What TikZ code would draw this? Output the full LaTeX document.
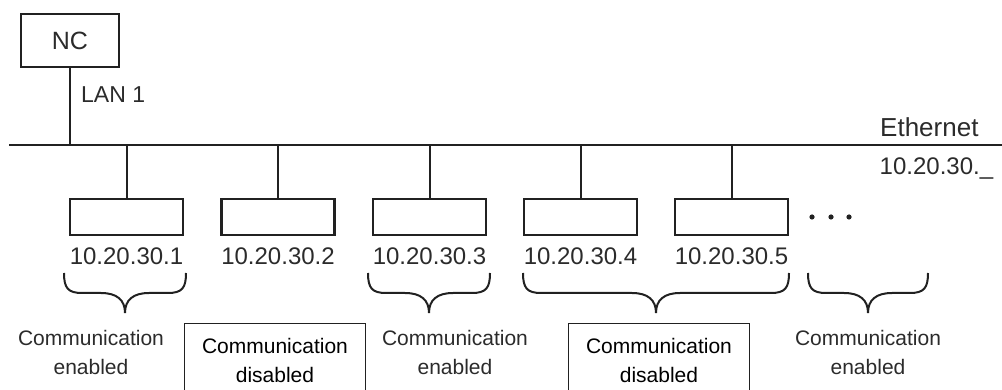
\documentclass[tikz,border=0pt]{standalone}
\usepackage{fontspec}
\setmainfont{Liberation Sans}
\usepackage{tikz}
\usetikzlibrary{calc,positioning}

\definecolor{linegray}{gray}{0.13}
\definecolor{textgray}{gray}{0.17}

% curly brace under the addresses: left end, right end, tip
\newcommand{\netbrace}[3]{%
  \draw[linegray, line width=2pt]
    (#1,273) .. controls (#1,288) and (#1+4,293) .. (#1+18,293)
    -- (#3-24,293) .. controls (#3-8,293) and (#3,300) .. (#3,313)
    .. controls (#3,300) and (#3+8,293) .. (#3+24,293)
    -- (#2-18,293) .. controls (#2-4,293) and (#2,288) .. (#2,273);}

\tikzset{
  unitbox/.style={draw=linegray, line width=2.6pt, minimum width=113pt,
    minimum height=36pt, inner sep=0pt},
  addr/.style={text=textgray, font=\fontsize{24}{28}\selectfont, anchor=base, inner sep=0pt},
  state/.style={text=textgray, font=\fontsize{21}{29}\selectfont, align=center,
    anchor=north, inner sep=0pt},
  offbox/.style={draw=linegray, line width=1.2pt, text=black,
    font=\fontsize{21}{29}\selectfont, align=center, anchor=north,
    minimum width=181pt, inner xsep=0pt, inner ysep=14.5pt}
}

\begin{document}
\begin{tikzpicture}[x=1pt, y=-1pt]
      \useasboundingbox (0,0) rectangle (1002,390);
      \clip (0,0) rectangle (1002,390);
      % Define coordinates
      \coordinate (busL) at (9,145);
      \coordinate (busR) at (1004,145);
      % Draw the Ethernet bus
      \draw[linegray, line width=2pt] (busL) -- (busR);
      \node[text=textgray, font=\fontsize{26}{30}\selectfont, anchor=base west, inner sep=0pt]
        (eth) at (880,137) {Ethernet};
      \node[text=textgray, font=\fontsize{24}{28}\selectfont, anchor=base west, inner sep=0pt]
        (net) at (879.5,175) {10.20.30.\_};
      % NC and its LAN port
      \node[draw=linegray, line width=2.4pt, minimum width=97.6pt, minimum height=52.6pt,
        text=textgray, font=\fontsize{25}{30}\selectfont] (nc) at (70,40.5) {NC};
      \draw[linegray, line width=2pt] (nc.south) -- (nc.south |- busL);
      \node[text=textgray, font=\fontsize{23}{28}\selectfont, anchor=base west, inner sep=0pt]
        (lan) at (81,103) {LAN 1};
      % Units on the bus
      \node[unitbox] (u1) at (126.5,217) {};
      \node[unitbox] (u2) at (278,217) {};
      \node[unitbox] (u3) at (429.5,217) {};
      \node[unitbox] (u4) at (580.5,217) {};
      \node[unitbox] (u5) at (731.5,217) {};
      \draw[linegray, line width=2pt] (u1.north) -- (u1.north |- busL);
      \draw[linegray, line width=2pt] (u2.north) -- (u2.north |- busL);
      \draw[linegray, line width=2pt] (u3.north) -- (u3.north |- busL);
      \draw[linegray, line width=2pt] (u4.north) -- (u4.north |- busL);
      \draw[linegray, line width=2pt] (u5.north) -- (u5.north |- busL);
      % Dots for further units
      \fill[linegray] (812,217) circle (2.6pt) (831,217) circle (2.6pt) (849,217) circle (2.6pt);
      % Addresses
      \node[addr] (a1) at (126.5,265) {10.20.30.1};
      \node[addr] (a2) at (278,265) {10.20.30.2};
      \node[addr] (a3) at (429.5,265) {10.20.30.3};
      \node[addr] (a4) at (580.5,265) {10.20.30.4};
      \node[addr] (a5) at (731.5,265) {10.20.30.5};
      % Braces
      \netbrace{64}{186}{125}
      \netbrace{368}{490}{429}
      \netbrace{523}{789}{656}
      \netbrace{808}{928}{868}
      % States
      \node[state] (s1) at (91,330.5) {Communication\\enabled};
      \node[offbox] (s2) at (275,323) {Communication\\disabled};
      \node[state] (s3) at (455,330.5) {Communication\\enabled};
      \node[offbox] (s4) at (659,323) {Communication\\disabled};
      \node[state] (s5) at (868,330.5) {Communication\\enabled};
    \end{tikzpicture}
\end{document}
